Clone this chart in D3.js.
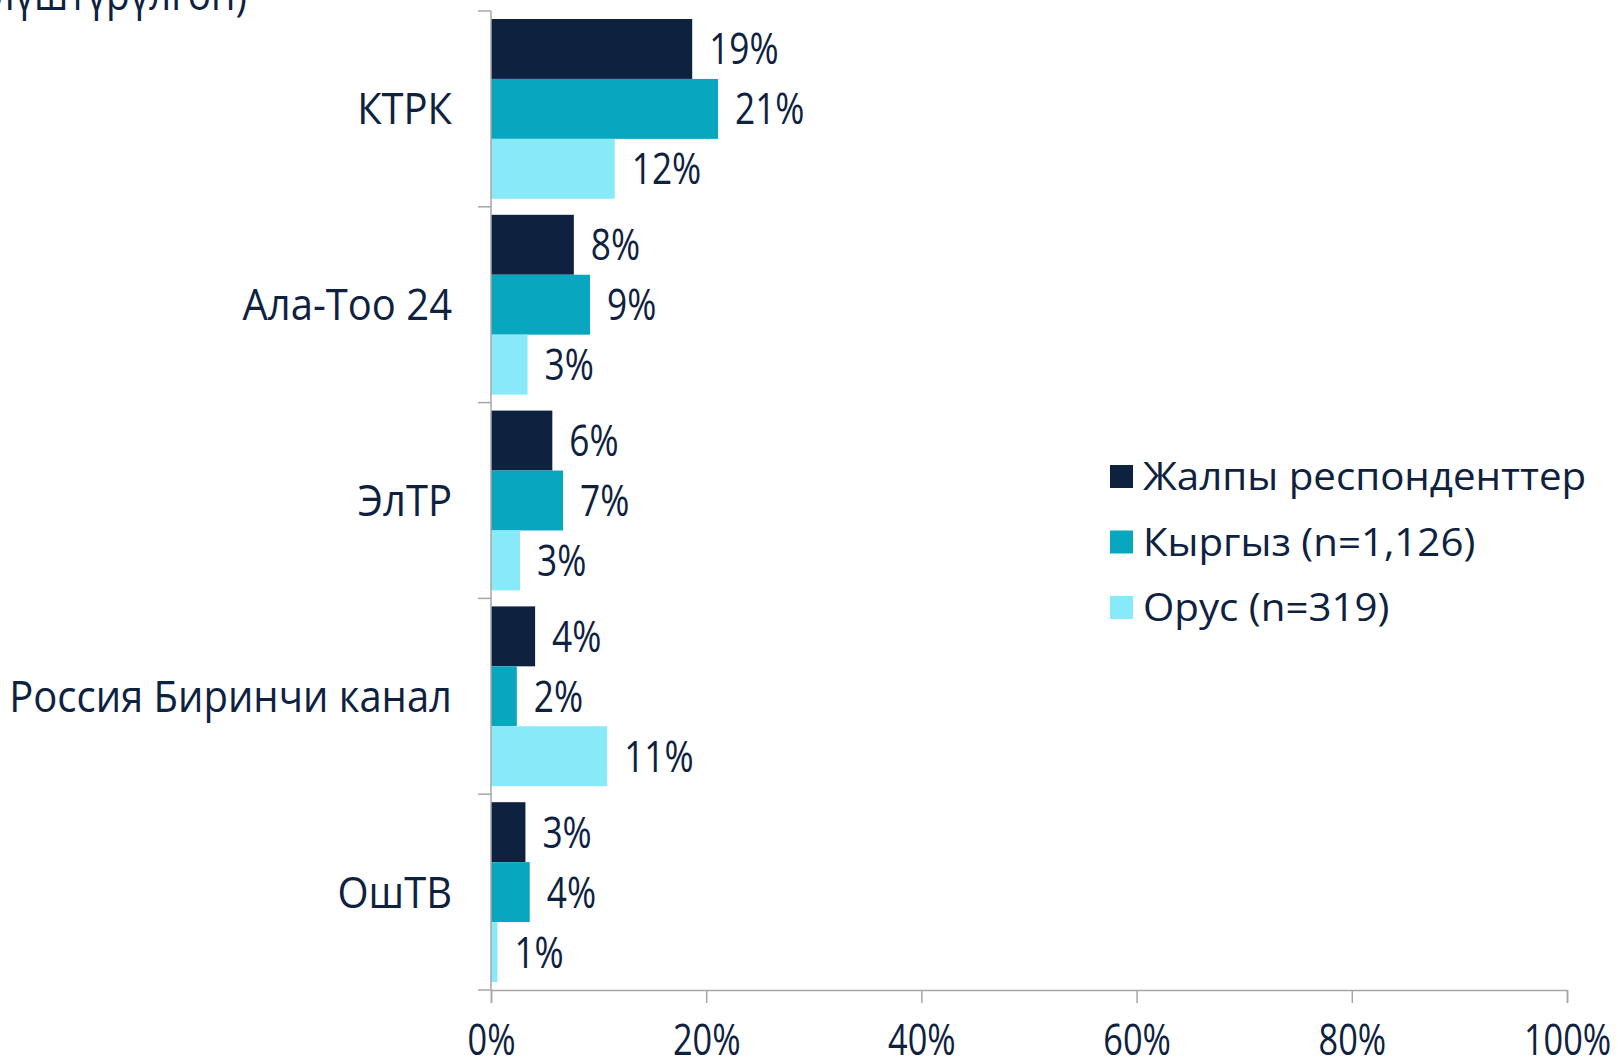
<!DOCTYPE html>
<html>
<head>
<meta charset="utf-8">
<script src="https://cdn.jsdelivr.net/npm/d3@7"></script>
<style>
  html, body { margin: 0; padding: 0; background: #ffffff; }
  svg { display: block; }
  text { font-family: "Open Sans", "Noto Sans", sans-serif; fill: #0E2240; }
</style>
</head>
<body>
<svg id="chart" width="1618" height="1061"></svg>
<script>
// ---- data ----
const categories = ["КТРК", "Ала-Тоо 24", "ЭлТР", "Россия Биринчи канал", "ОшТВ"];
const seriesNames = ["Жалпы респонденттер", "Кыргыз (n=1,126)", "Орус (n=319)"];
const overallValues = [18.7, 7.7, 5.7, 4.1, 3.2];
const kyrgyzValues = [21.1, 9.2, 6.7, 2.4, 3.6];
const russianValues = [11.5, 3.4, 2.7, 10.8, 0.6];
const xTicks = [0, 20, 40, 60, 80, 100];
const titleFragment = "(улуту боюнча бөлүштүрүлгөн)";

const seriesValues = [overallValues, kyrgyzValues, russianValues];
const colors = ["#0E2240", "#08A7BF", "#88EAF8"];

const svg = d3.select("#chart");

const x = d3.scaleLinear().domain([0, 100]).range([491, 1567]);
const y = d3.scaleBand().domain(categories).range([11, 990]).padding(0);
const ySub = d3.scaleBand().domain(d3.range(seriesNames.length))
  .range([8, y.bandwidth() - 8]).padding(0);

const axisColor = "#A6A6A6";

// title fragment (clipped at top of frame)
svg.append("text")
  .attr("transform", "translate(247,10) scale(0.9,1)")
  .attr("text-anchor", "end")
  .style("font-size", "43px")
  .text(titleFragment);

// bars
const groups = svg.selectAll("g.cat").data(categories).enter().append("g")
  .attr("class", "cat")
  .attr("transform", d => `translate(0,${y(d)})`);

groups.each(function(cat, ci) {
  const g = d3.select(this);
  seriesValues.forEach((vals, si) => {
    const v = vals[ci];
    g.append("rect")
      .attr("x", x(0))
      .attr("y", ySub(si))
      .attr("width", x(v) - x(0))
      .attr("height", ySub.bandwidth())
      .attr("fill", colors[si]);
    g.append("text")
      .attr("transform", `translate(${x(v) + 17},${ySub(si) + ySub.bandwidth() / 2}) scale(0.82,1)`)
      .attr("dy", "0.36em")
      .style("font-size", "43px")
      .text(Math.round(v) + "%");
  });
});

// y axis line and ticks at band boundaries
svg.append("line")
  .attr("x1", x(0)).attr("x2", x(0))
  .attr("y1", y.range()[0]).attr("y2", y.range()[1])
  .attr("stroke", axisColor).attr("stroke-width", 1.5);
const boundaries = categories.map(c => y(c)).concat([y.range()[1]]);
svg.selectAll("line.ytick").data(boundaries).enter().append("line")
  .attr("class", "ytick")
  .attr("x1", x(0) - 13).attr("x2", x(0))
  .attr("y1", d => d).attr("y2", d => d)
  .attr("stroke", axisColor).attr("stroke-width", 1.5);

// category labels
svg.selectAll("text.cat").data(categories).enter().append("text")
  .attr("class", "cat")
  .attr("transform", d => `translate(452,${y(d) + y.bandwidth() / 2}) scale(0.93,1)`)
  .attr("text-anchor", "end")
  .attr("dy", "0.36em")
  .style("font-size", "43px")
  .text(d => d);

// x axis
const xAxis = d3.axisBottom(x).tickValues(xTicks).tickSize(13).tickFormat(d => d + "%");
const xg = svg.append("g").attr("transform", `translate(0,${y.range()[1]})`).call(xAxis);
xg.select(".domain").attr("stroke", axisColor).attr("stroke-width", 1.5);
xg.selectAll(".tick line").attr("stroke", axisColor).attr("stroke-width", 1.5);
xg.selectAll(".tick text").remove();
xg.selectAll(".tick").append("text")
  .attr("transform", "translate(0,65) scale(0.78,1)")
  .attr("text-anchor", "middle")
  .style("font-size", "44px")
  .style("fill", "#0E2240")
  .text(d => d + "%");

// legend
const legend = svg.append("g").attr("transform", "translate(1110,465)");
const items = legend.selectAll("g").data(seriesNames).enter().append("g")
  .attr("transform", (d, i) => `translate(0,${i * 65.5})`);
items.append("rect").attr("width", 23).attr("height", 23).attr("fill", (d, i) => colors[i]);
items.append("text")
  .attr("transform", "translate(33,11.5) scale(1.06,1)")
  .attr("dy", "0.36em")
  .style("font-size", "38px")
  .text(d => d);
</script>
</body>
</html>
